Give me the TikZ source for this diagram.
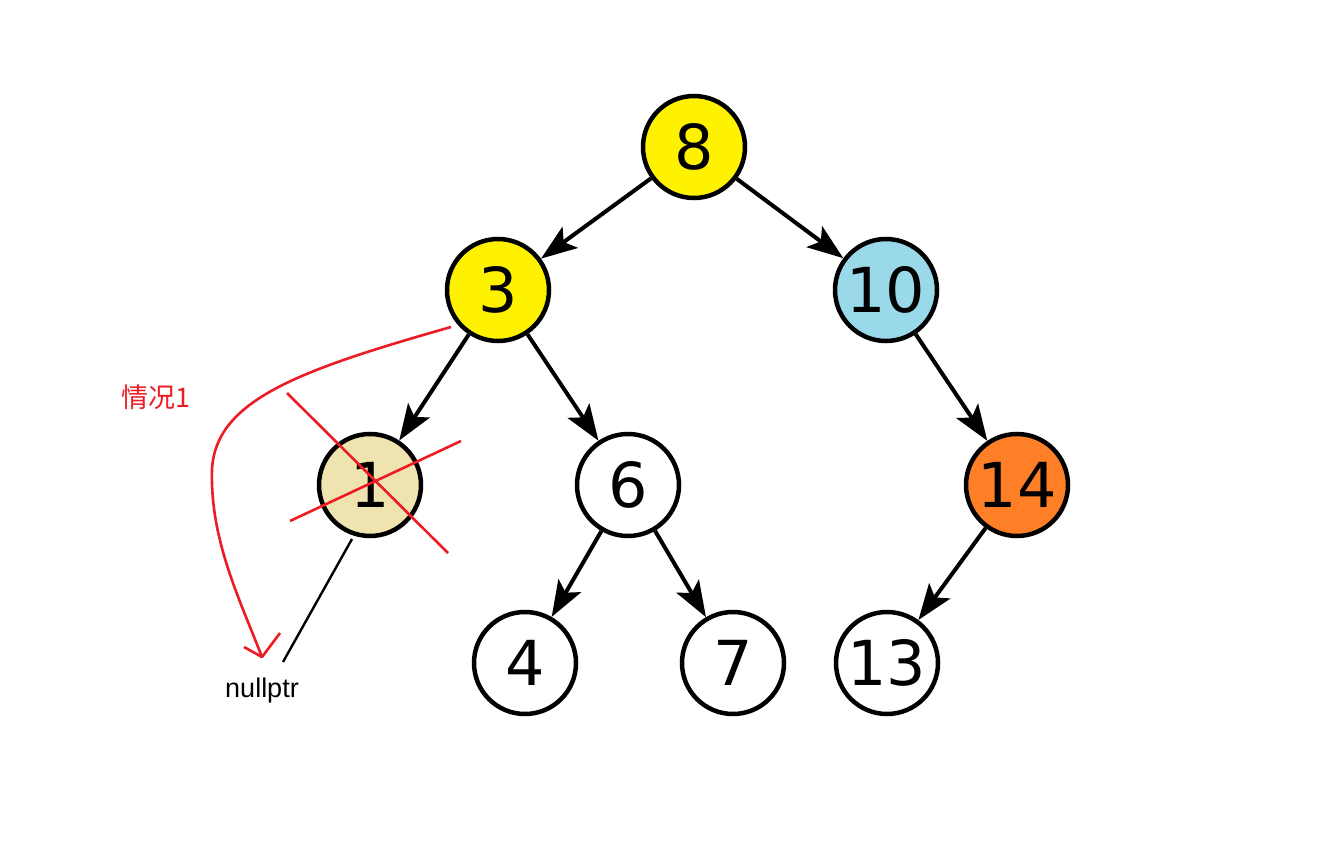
\documentclass[tikz,border=0pt]{standalone}
\usepackage{fontspec}
\setmainfont{DejaVu Sans}
\newfontfamily\labfont{Liberation Sans}
\newfontfamily\cjk{Noto Sans CJK SC}
\usetikzlibrary{arrows.meta}
\definecolor{pyellow}{HTML}{FFF200}
\definecolor{pblue}{HTML}{99D9EA}
\definecolor{porange}{HTML}{FF7F27}
\definecolor{ptan}{HTML}{EFE4B0}
\definecolor{pred}{HTML}{ED1C24}
\begin{document}
\begin{tikzpicture}[x=1pt,y=-1pt,
  tnode/.style={circle,draw=black,line width=4.5pt,minimum size=102pt,inner sep=0pt,font=\fontsize{62}{62}\selectfont},
  edge/.style={line width=4pt,-{Stealth[length=36pt,width=26pt,inset=8pt]}},
  redline/.style={draw=pred,line width=2.6pt},
]
\useasboundingbox[fill=white] (0,0) rectangle (1335,866);
\node[tnode,fill=pyellow] (n8) at (694,147) {8};
\node[tnode,fill=pyellow] (n3) at (498,290) {3};
\node[tnode,fill=pblue] (n10) at (886,290) {10};
\node[tnode,fill=ptan] (n1) at (370,485) {1};
\node[tnode,fill=white] (n6) at (628,485) {6};
\node[tnode,fill=porange] (n14) at (1017,485) {14};
\node[tnode,fill=white] (n4) at (525,663) {4};
\node[tnode,fill=white] (n7) at (733,663) {7};
\node[tnode,fill=white] (n13) at (887,663) {13};
\draw[edge] (n8) -- (n3);
\draw[edge] (n8) -- (n10);
\draw[edge] (n3) -- (n1);
\draw[edge] (n3) -- (n6);
\draw[edge] (n10) -- (n14);
\draw[edge] (n6) -- (n4);
\draw[edge] (n6) -- (n7);
\draw[edge] (n14) -- (n13);
% annotations
\node[text=pred,font=\cjk\fontsize{27}{27}\selectfont] (lab) at (156,397) {情况1};
\node[font=\labfont\fontsize{27}{27}\selectfont] (np) at (262,691) {nullptr};
\coordinate (l1s) at (352,539);
\coordinate (l1e) at (283,662);
\draw[line width=2.4pt] (l1s) -- (l1e);
\coordinate (x1a) at (287,393);
\coordinate (x1b) at (448,553);
\coordinate (x2a) at (290,521);
\coordinate (x2b) at (461,441);
\draw[redline] (x1a) -- (x1b);
\draw[redline] (x2a) -- (x2b);
\coordinate (cs) at (451,327);
\coordinate (cm) at (212,470);
\coordinate (tip) at (262,657);
\coordinate (bl) at (244,647);
\coordinate (br) at (280,633);
\draw[redline] (cs) .. controls (300,370) and (215,400) .. (cm) .. controls (210,540) and (240,600) .. (tip);
\draw[redline,line join=round] (bl) -- (tip) -- (br);
\end{tikzpicture}
\end{document}
